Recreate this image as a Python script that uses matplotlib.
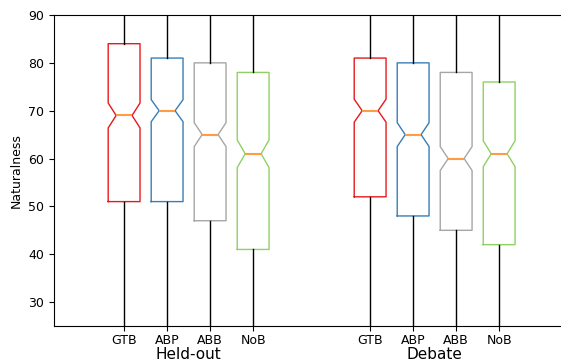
import matplotlib.pyplot as plt
from matplotlib import transforms

# Data (naturalness scores)
methods = ['GTB', 'ABP', 'ABB', 'NoB']
groups = ['Held-out', 'Debate']
box_colors = ['#e41a1c', '#377eb8', '#a6a6a6', '#8fd163']

# per group: medians, lower / upper quartiles, notch (confidence interval) limits
held_med = [69, 70, 65, 61]
held_q1 = [51, 51, 47, 41]
held_q3 = [84, 81, 80, 78]
held_cilo = [66.4, 67.7, 62.5, 58.1]
held_cihi = [71.6, 72.3, 67.5, 63.9]

debate_med = [70, 65, 60, 61]
debate_q1 = [52, 48, 45, 42]
debate_q3 = [81, 80, 78, 76]
debate_cilo = [67.6, 62.5, 57.5, 58.3]
debate_cihi = [72.4, 67.5, 62.5, 63.7]

whis_lo = 0
whis_hi = 100

held_pos = [1, 2, 3, 4]
debate_pos = [6.72, 7.72, 8.72, 9.72]

fig = plt.figure(figsize=(5.61, 3.62), dpi=100)
ax = fig.add_axes([54 / 561, 36 / 362, 1.05 - 54 / 561, 311 / 362])


def make_stats(med, q1, q3, cilo, cihi):
    stats = []
    for i in range(len(med)):
        stats.append({
            'med': med[i], 'q1': q1[i], 'q3': q3[i],
            'cilo': cilo[i], 'cihi': cihi[i],
            'whislo': whis_lo, 'whishi': whis_hi, 'fliers': [],
        })
    return stats


for stats, pos in [(make_stats(held_med, held_q1, held_q3, held_cilo, held_cihi), held_pos),
                   (make_stats(debate_med, debate_q1, debate_q3, debate_cilo, debate_cihi), debate_pos)]:
    bp = ax.bxp(stats, positions=pos, widths=0.74, shownotches=True,
                showcaps=False, showfliers=False, manage_ticks=False,
                whiskerprops={'color': 'black', 'linewidth': 1.0},
                medianprops={'color': '#ff9b45', 'linewidth': 1.5})
    for box, c in zip(bp['boxes'], box_colors):
        box.set_color(c)
        box.set_linewidth(1.0)

ax.set_ylim(25, 90)
ax.set_xlim(-0.63, 11.81)
ax.set_yticks([30, 40, 50, 60, 70, 80, 90])
ax.set_xticks(held_pos + debate_pos)
ax.set_xticklabels(methods + methods)
ax.tick_params(labelsize=9)
ax.tick_params(axis='x', pad=2.5)
ax.set_ylabel('Naturalness', fontsize=9)

# group names under the tick labels
trans = transforms.blended_transform_factory(ax.transData, ax.transAxes)
ax.text(sum(held_pos) / 4, -0.092, groups[0], transform=trans,
        ha='center', va='center', fontsize=11)
ax.text(sum(debate_pos) / 4, -0.092, groups[1], transform=trans,
        ha='center', va='center', fontsize=11)

plt.savefig('out.png', dpi=100)
